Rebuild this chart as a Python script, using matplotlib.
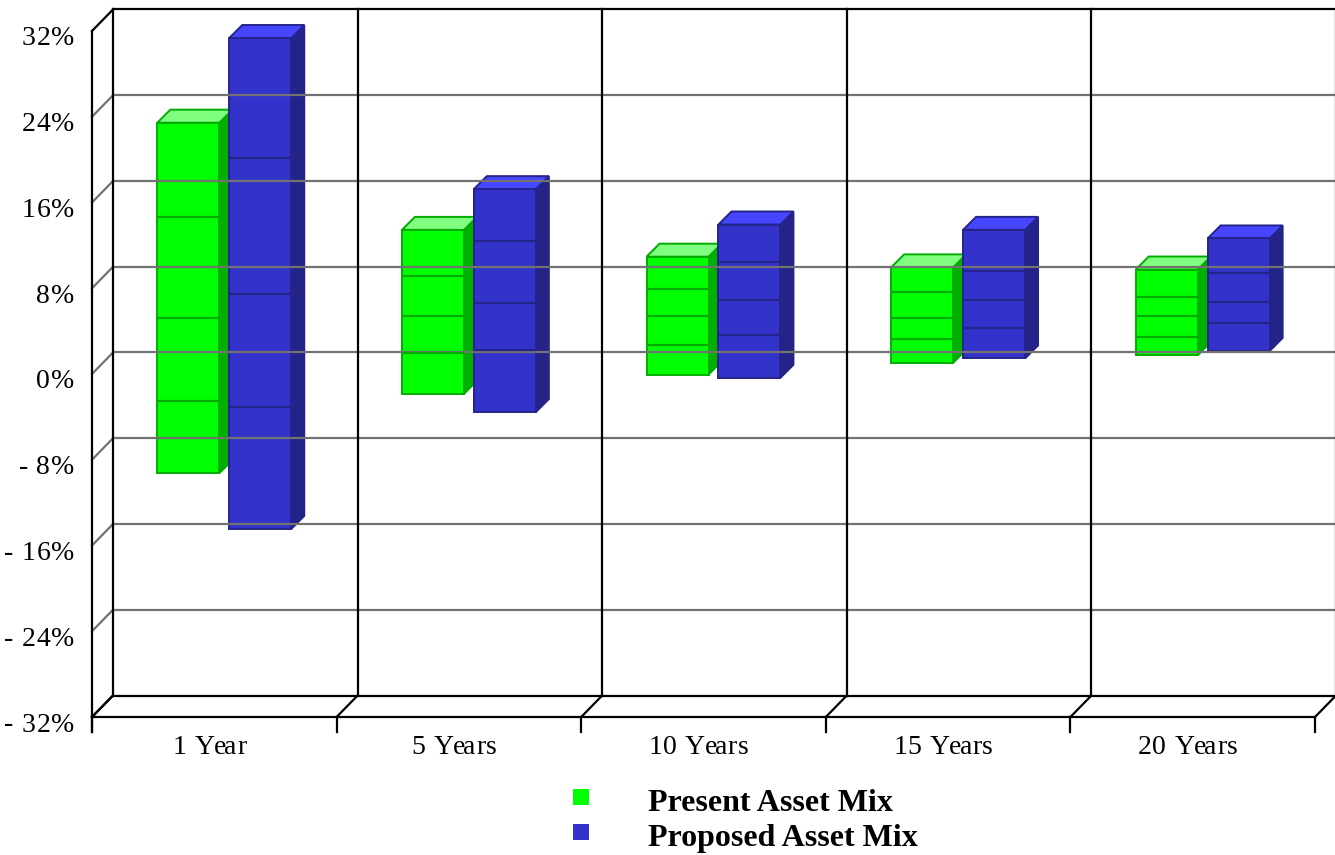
import matplotlib.pyplot as plt
import matplotlib.transforms as mtransforms
from matplotlib.lines import Line2D
from matplotlib.patches import Polygon, Rectangle

periods = ["1 Year", "5 Years", "10 Years", "15 Years", "20 Years"]

# spread of returns per holding period (%): high, upper, middle, lower, low
present_high = [22.7, 12.7, 10.2, 9.2, 9.0]
present_upper = [13.9, 8.4, 7.2, 6.9, 6.4]
present_mid = [4.5, 4.7, 4.7, 4.5, 4.7]
present_lower = [-3.3, 1.2, 2.0, 2.5, 2.7]
present_low = [-10.0, -2.6, -0.8, 0.3, 1.0]

proposed_high = [30.6, 16.5, 13.2, 12.7, 11.9]
proposed_upper = [19.4, 11.7, 9.7, 8.9, 8.7]
proposed_mid = [6.7, 5.9, 6.2, 6.2, 6.0]
proposed_lower = [-3.8, 1.5, 2.9, 3.5, 4.0]
proposed_low = [-15.2, -4.3, -1.1, 0.7, 1.4]

yticks = [-32, -24, -16, -8, 0, 8, 16, 24, 32]
ytick_labels = ["- 32%", "- 24%", "- 16%", "- 8%", "0%", "8%", "16%", "24%", "32%"]

series = [
    ("Present Asset Mix",
     [present_high, present_upper, present_mid, present_lower, present_low],
     dict(front="#00ff00", top="#80ff80", side="#00b000", edge="#00ac00")),
    ("Proposed Asset Mix",
     [proposed_high, proposed_upper, proposed_mid, proposed_lower, proposed_low],
     dict(front="#3333cc", top="#4646ff", side="#232388", edge="#24248a")),
]

fig = plt.figure(figsize=(13.35, 8.55), dpi=100)
ax = fig.add_axes([92 / 1335, 138 / 855, 1223 / 1335, 686 / 855])
ax.set_xlim(0, len(periods))
ax.set_ylim(yticks[0], yticks[-1])
ax.axis("off")

# oblique depth offsets in pixels
WALL = (21, 21.5)
BAR_FRONT = (10, 8)
BAR_DEPTH = (13, 13)
BAR_W = 0.2535
BAR_SHIFT = 0.147

ident = mtransforms.IdentityTransform()
renderer = fig.canvas.get_renderer()


def proj(x, y, off=(0, 0)):
    px, py = ax.transData.transform((x, y))
    return px + off[0], py + off[1]


def seg(p, q, cap="projecting", **kw):
    fig.add_artist(Line2D([p[0], q[0]], [p[1], q[1]], transform=ident,
                          solid_capstyle=cap, **kw))


def poly(points, **kw):
    fig.add_artist(Polygon(points, closed=True, transform=ident, **kw))


def text_width(s, **kw):
    t = fig.text(0, 0, s, transform=ident, **kw)
    w = t.get_window_extent(renderer).width
    t.remove()
    return w


def tracked_text(x, y, s, track, ha="left", **kw):
    # lay the string out glyph by glyph with extra letter spacing
    wx = text_width("x", **kw)
    starts = [text_width(s[:k] + "x", **kw) - wx if k else 0.0 for k in range(len(s))]
    total = text_width(s, **kw) + track * (len(s) - 1)
    if ha == "center":
        x -= total / 2
    elif ha == "right":
        x -= total
    for k, ch in enumerate(s):
        if ch != " ":
            fig.text(x + starts[k] + track * k, y, ch, transform=ident,
                     ha="left", va="baseline", **kw)


# back wall: gridlines, verticals and frame
for v in yticks[1:-1]:
    seg(proj(0, v, WALL), proj(len(periods), v, WALL), color="#727272", lw=1.6)
    seg(proj(0, v), proj(0, v, WALL), color="#727272", lw=1.6)
for v in (yticks[0], yticks[-1]):
    seg(proj(0, v, WALL), proj(len(periods), v, WALL), color="black", lw=1.6)
    seg(proj(0, v), proj(0, v, WALL), color="black", lw=1.6)
for i in range(len(periods) + 1):
    seg(proj(i, yticks[0], WALL), proj(i, yticks[-1], WALL), color="black", lw=1.6)

# floor and front axis
seg(proj(0, yticks[0]), proj(len(periods), yticks[0]), color="black", lw=1.6)
for i in range(len(periods) + 1):
    base = proj(i, yticks[0])
    seg(base, proj(i, yticks[0], WALL), color="black", lw=1.6)
    seg(base, (base[0], base[1] - 15), color="black", lw=1.6)
left_bottom = proj(0, yticks[0])
seg(proj(0, yticks[-1]), (left_bottom[0], left_bottom[1] - 15), color="black", lw=1.6)

# floating 3D bars
for s, (name, vals, col) in enumerate(series):
    high, upper, mid, lower, low = vals
    for i in range(len(periods)):
        cx = i + 0.5 + (BAR_SHIFT if s else -BAR_SHIFT)
        x0, x1 = cx - BAR_W / 2, cx + BAR_W / 2
        fl = proj(x0, low[i], BAR_FRONT)
        fr = proj(x1, low[i], BAR_FRONT)
        tl = proj(x0, high[i], BAR_FRONT)
        tr = proj(x1, high[i], BAR_FRONT)
        d = BAR_DEPTH
        poly([tr, fr, (fr[0] + d[0], fr[1] + d[1]), (tr[0] + d[0], tr[1] + d[1])],
             facecolor=col["side"], edgecolor=col["edge"], lw=1.4)
        poly([tl, tr, (tr[0] + d[0], tr[1] + d[1]), (tl[0] + d[0], tl[1] + d[1])],
             facecolor=col["top"], edgecolor=col["edge"], lw=1.4)
        poly([fl, fr, tr, tl], facecolor=col["front"], edgecolor=col["edge"], lw=1.4)
        for v in (upper[i], mid[i], lower[i]):
            seg(proj(x0, v, BAR_FRONT), proj(x1, v, BAR_FRONT),
                cap="butt", color=col["edge"], lw=1.6)

# tick labels
serif = ["Liberation Serif", "DejaVu Serif"]
for v, lab in zip(yticks, ytick_labels):
    px, py = proj(0, v)
    tracked_text(px - 18, py - 14.5, lab, 0.6, ha="right", fontsize=20, family=serif)
for i, lab in enumerate(periods):
    px, py = proj(i + 0.5, yticks[0])
    tracked_text(px - 5, py - 37, lab, 0.6, ha="center", fontsize=20, family=serif)

# legend
for k, (name, vals, col) in enumerate(series):
    y = 50 - 35 * k
    fig.add_artist(Rectangle((573, y), 16, 16, transform=ident,
                             facecolor=col["front"], edgecolor="none"))
    fig.text(648, y - 6, name, transform=ident, ha="left", va="baseline",
             fontsize=23, fontweight="bold", family=serif)

fig.savefig("out.png", dpi=100)
